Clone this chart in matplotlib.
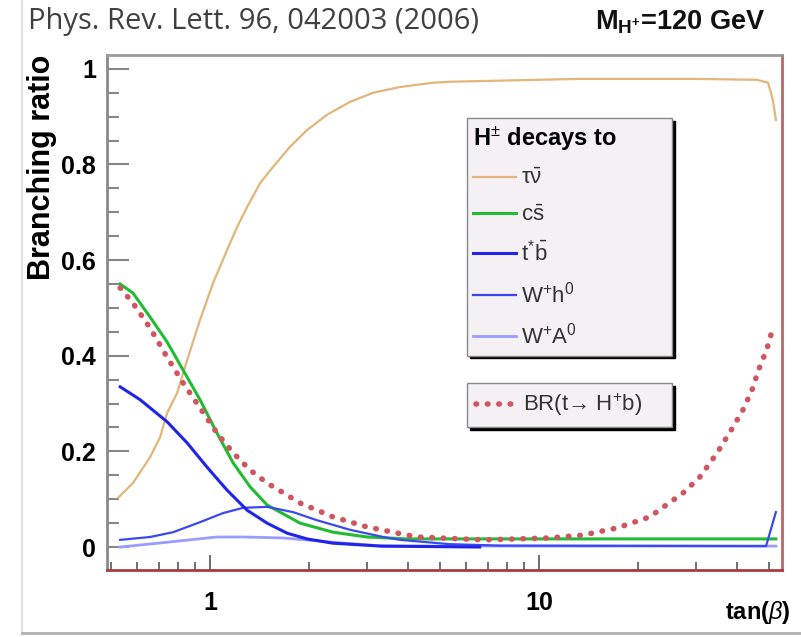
import matplotlib
matplotlib.use("Agg")
import matplotlib.pyplot as plt
from matplotlib.lines import Line2D
from matplotlib.ticker import MultipleLocator, LogLocator, NullFormatter

plt.rcParams["font.family"] = ["Liberation Sans", "DejaVu Sans"]
plt.rcParams["mathtext.fontset"] = "custom"
plt.rcParams["mathtext.rm"] = "Liberation Sans"
plt.rcParams["mathtext.it"] = "Liberation Sans:italic"
plt.rcParams["mathtext.bf"] = "Liberation Sans:bold"

# values (tan(beta), branching ratio)
tanb_taunu = [0.525, 0.583, 0.657, 0.705, 0.740, 0.794, 0.839, 0.932, 1.021,
              1.126, 1.208, 1.296, 1.419, 1.554, 1.75, 1.971, 2.268, 2.665,
              3.13, 3.78, 4.76, 5.36, 13.3, 30.0, 46.0, 49.7, 51.4, 52.5]
br_taunu = [0.103, 0.134, 0.188, 0.230, 0.280, 0.322, 0.377, 0.475, 0.552,
            0.621, 0.669, 0.711, 0.761, 0.795, 0.837, 0.872, 0.904, 0.931,
            0.950, 0.962, 0.971, 0.973, 0.979, 0.979, 0.977, 0.971, 0.935, 0.893]

tanb_cs = [0.533, 0.583, 0.657, 0.740, 0.828, 0.932, 1.050, 1.175, 1.323,
           1.490, 1.877, 2.365, 3.0, 4.0, 10.0, 52.5]
br_cs = [0.550, 0.531, 0.481, 0.429, 0.370, 0.308, 0.238, 0.176, 0.126,
         0.088, 0.050, 0.031, 0.021, 0.017, 0.017, 0.017]

tanb_tb = [0.533, 0.613, 0.740, 0.851, 0.979, 1.126, 1.296, 1.490, 1.714,
           1.971, 2.365, 3.29, 6.6]
br_tb = [0.335, 0.308, 0.262, 0.218, 0.167, 0.119, 0.077, 0.050, 0.029,
         0.017, 0.008, 0.002, 0.0]

tanb_wh = [0.533, 0.657, 0.772, 0.932, 1.095, 1.26, 1.49, 1.788, 2.114,
           2.665, 3.36, 3.78, 5.36, 7.6, 49.0, 52.5]
br_wh = [0.015, 0.021, 0.031, 0.052, 0.071, 0.082, 0.084, 0.073, 0.056,
         0.036, 0.021, 0.015, 0.006, 0.003, 0.002, 0.073]

tanb_wa = [0.533, 0.740, 1.05, 1.26, 1.667, 2.365, 3.36, 10.0, 52.5]
br_wa = [0.0, 0.010, 0.021, 0.021, 0.019, 0.010, 0.002, 0.002, 0.002]

tanb_top = [0.533, 0.583, 0.657, 0.740, 0.828, 0.932, 1.050, 1.175, 1.323,
            1.490, 1.877, 2.365, 3.0, 3.60, 4.26, 6.76, 10.8, 13.6, 17.3,
            21.7, 27.4, 30.8, 34.8, 38.9, 41.7, 44.4, 46.6, 49.3, 51.4]
br_top = [0.542, 0.510, 0.458, 0.397, 0.343, 0.291, 0.238, 0.197, 0.161,
          0.134, 0.092, 0.063, 0.042, 0.031, 0.021, 0.015, 0.019, 0.025, 0.040,
          0.063, 0.113, 0.146, 0.197, 0.251, 0.287, 0.328, 0.372, 0.414, 0.458]

fig = plt.figure(figsize=(8.01, 6.37), dpi=100)
ax = fig.add_axes([0.1336, 0.1052, 0.8427, 0.8085])

l_tau, = ax.plot(tanb_taunu, br_taunu, color="#e2b57a", lw=1.6)
l_cs, = ax.plot(tanb_cs, br_cs, color="#22bb33", lw=2.2)
l_wa, = ax.plot(tanb_wa, br_wa, color="#9a9cff", lw=2.0)
l_wh, = ax.plot(tanb_wh, br_wh, color="#3a48f0", lw=1.6)
l_tb, = ax.plot(tanb_tb, br_tb, color="#1f24e8", lw=2.2)
l_top, = ax.plot(tanb_top, br_top, color="#cf5560", lw=4.0, ls=(0, (0.1, 1.95)),
                 dash_capstyle="round")

ax.set_xscale("log")
ax.set_xlim(0.486, 54.8)
ax.set_ylim(-0.048, 1.029)

ax.set_xticks([1, 10], ["1", "10"])
ax.xaxis.set_minor_locator(LogLocator(base=10, subs=range(2, 10)))
ax.xaxis.set_minor_formatter(NullFormatter())
ax.yaxis.set_minor_locator(MultipleLocator(0.05))
ax.set_yticks([0, 0.2, 0.4, 0.6, 0.8, 1.0], ["0", "0.2", "0.4", "0.6", "0.8", "1"])

ax.tick_params(axis="y", which="major", direction="in", length=16, width=1.5,
               color="#888888", labelsize=18, pad=8)
ax.tick_params(axis="y", which="minor", direction="in", length=8.5, width=1.5,
               color="#888888")
ax.tick_params(axis="x", which="major", direction="in", length=11, width=1.2,
               color="#555555", labelsize=18, pad=15)
ax.tick_params(axis="x", which="minor", direction="in", length=5.5, width=1.2,
               color="#555555")
for lab in ax.get_xticklabels() + ax.get_yticklabels():
    lab.set_fontweight("bold")

ax.spines["left"].set_color("#8a8a8a")
ax.spines["top"].set_color("#9a9a9a")
ax.spines["right"].set_color("#b86666")
ax.spines["bottom"].set_color("#a83c3c")
for s in ax.spines.values():
    s.set_linewidth(2)

ax.set_ylabel("Branching ratio", fontsize=22, fontweight="bold", loc="top",
              labelpad=3)

leg1 = ax.legend([l_tau, l_cs, l_tb, l_wh, l_wa],
                 [r"$\mathrm{\tau}\bar{\mathrm{\nu}}$", r"c$\bar{\rm s}$",
                  r"t$^{*}\bar{\rm b}$", r"W$^{+}$h$^{0}$", r"W$^{+}$A$^{0}$"],
                 title=r"H$^{\pm}$ decays to", alignment="left",
                 title_fontproperties={"size": 17, "weight": "bold"},
                 loc="upper left", bbox_to_anchor=(0.533, 0.0, 0.304, 0.878),
                 mode="expand", borderaxespad=0, fontsize=16, labelcolor="#333333",
                 handlelength=1.9, handletextpad=0.25, labelspacing=0.7,
                 borderpad=0.3, fancybox=False, framealpha=1,
                 facecolor="#f4f0f4", edgecolor="#888888",
                 shadow={"color": "black", "alpha": 1})
leg1.get_frame().set_linewidth(1)
ax.add_artist(leg1)

leg2 = ax.legend([l_top], ["BR(t\u2192 H$^{+}$b)"],
                 loc="upper left", bbox_to_anchor=(0.533, 0.0, 0.304, 0.363),
                 mode="expand", borderaxespad=0, fontsize=16, labelcolor="#333333",
                 handlelength=1.9, handletextpad=0.25, borderpad=0.4,
                 fancybox=False, framealpha=1, facecolor="#f4f0f4",
                 edgecolor="#888888", shadow={"color": "black", "alpha": 1})
leg2.get_frame().set_linewidth(1)

fig.text(0.035, 1 - 22 / 637, "Phys. Rev. Lett. 96, 042003 (2006)",
         fontsize=21, color="#404040", family=["Open Sans", "DejaVu Sans"],
         ha="left", va="center")
fig.text(0.956, 1 - 22 / 637, r"M$_{\mathbf{H}^{\mathbf{+}}}$=120 GeV",
         fontsize=19.5, fontweight="bold", color="#111111", ha="right", va="center")
fig.text(0.987, 1 - 612 / 637, r"tan($\beta$)", fontsize=17, fontweight="bold",
         ha="right", va="center")

# slide frame
fig.add_artist(Line2D([22 / 801, 22 / 801], [1 - 632 / 637, 1], color="#e0e0e0", lw=1.5))
fig.add_artist(Line2D([22 / 801, 1], [1 - 633 / 637, 1 - 633 / 637], color="#b0b0b0", lw=2))

fig.savefig("out.png", dpi=100)
